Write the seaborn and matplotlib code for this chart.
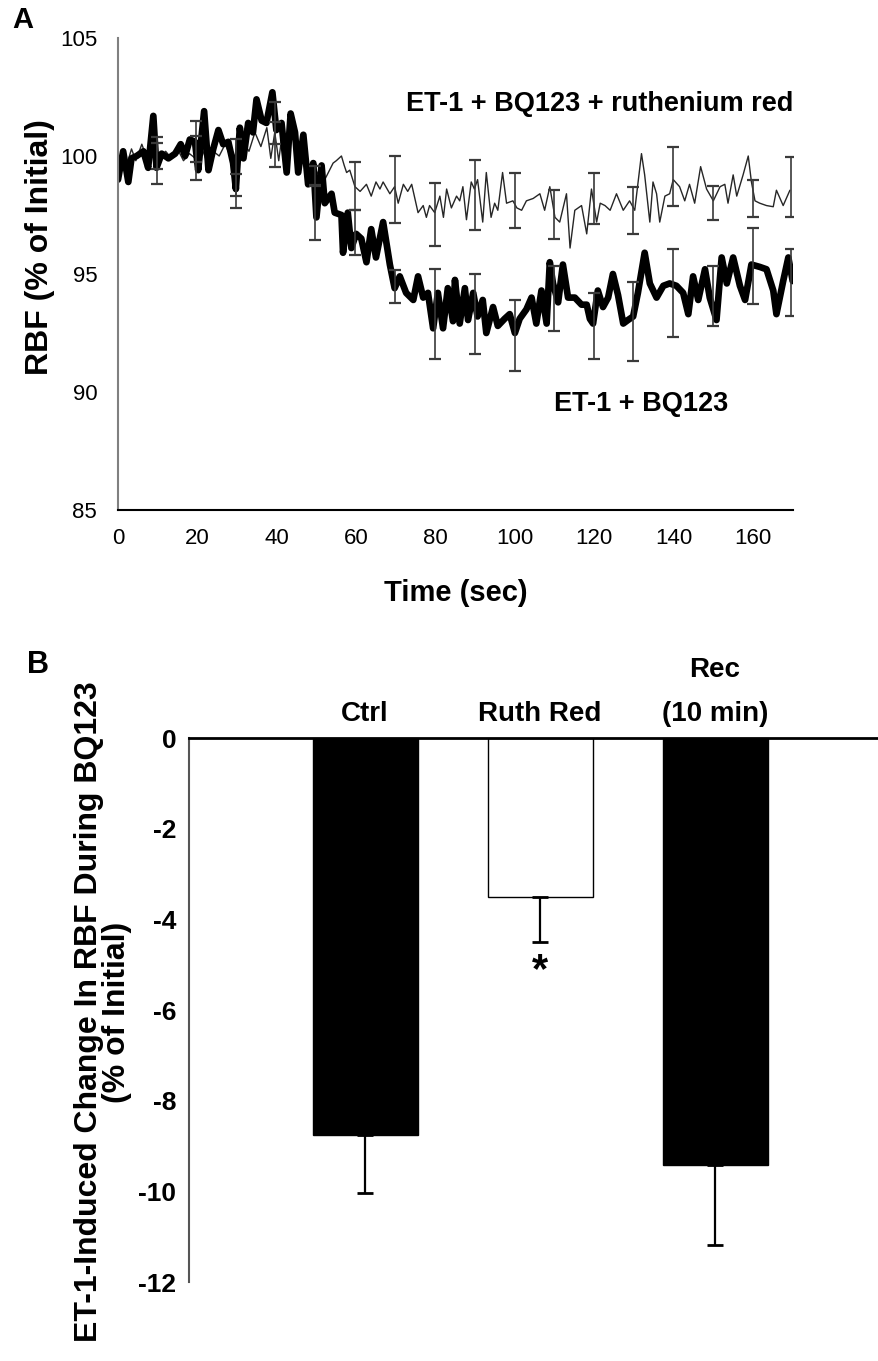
import numpy as np
import pandas as pd
import matplotlib
matplotlib.use("Agg")
import matplotlib.pyplot as plt
import seaborn as sns

# ---------------- Panel A data ----------------
bq_time = [0.0, 1.3, 2.6, 3.4, 4.7, 6.4, 7.6, 8.9, 9.7, 11.0, 12.7, 14.4, 15.8, 16.9, 18.1, 19.4,
           20.2, 21.7, 22.8, 24.0, 25.3, 26.5, 27.8, 29.0, 29.7, 30.7, 31.6, 32.8, 34.0, 34.9, 36.2,
           37.4, 38.9, 39.9, 41.2, 42.5, 43.5, 44.6, 45.4, 46.7, 47.9, 49.2, 50.0, 51.3, 52.1, 53.8,
           54.6, 56.3, 56.7, 57.9, 58.8, 60.0, 61.3, 62.6, 63.8, 65.0, 66.8, 68.5, 69.7, 71.0, 72.6,
           74.4, 75.6, 76.9, 78.1, 79.4, 80.6, 81.9, 83.1, 84.4, 84.9, 86.1, 87.4, 88.2, 89.5, 90.6,
           91.9, 92.8, 94.5, 95.7, 97.4, 98.7, 100.0, 101.2, 102.9, 104.2, 105.4, 106.7, 108.0, 108.8,
           109.6, 110.9, 112.1, 113.4, 115.1, 116.8, 118.1, 118.9, 119.7, 120.9, 122.2, 123.5, 124.7,
           126.0, 127.3, 128.5, 129.8, 131.0, 132.7, 134.0, 135.7, 137.4, 139.0, 140.7, 142.4, 143.7,
           144.9, 146.2, 147.9, 149.1, 150.8, 152.1, 153.4, 155.0, 156.7, 158.0, 159.6, 161.7, 163.4,
           165.1, 165.9, 167.6, 168.9, 170.0]
bq_rbf = [99.0, 100.2, 98.9, 99.9, 100.0, 100.2, 99.5, 101.7, 99.5, 100.1, 99.9, 100.1, 100.5, 100.0,
          100.7, 100.6, 99.4, 101.9, 99.4, 100.3, 101.1, 100.5, 100.6, 99.7, 98.6, 101.2, 99.9, 101.4,
          101.0, 102.4, 101.5, 101.4, 102.7, 101.1, 101.4, 99.3, 101.8, 101.0, 99.3, 100.9, 98.8, 99.7,
          97.4, 99.6, 98.0, 98.4, 97.6, 97.5, 95.9, 97.6, 96.1, 96.7, 96.5, 95.5, 96.9, 95.7, 97.2, 95.4,
          94.4, 94.9, 94.2, 93.9, 94.9, 94.0, 94.2, 92.7, 94.2, 92.7, 94.4, 93.0, 94.75, 92.9, 94.4,
          93.05, 94.2, 93.2, 93.9, 92.5, 93.6, 92.8, 93.1, 93.3, 92.5, 93.1, 93.5, 94.0, 92.9, 94.3,
          92.9, 95.5, 94.6, 93.8, 95.4, 94.0, 94.0, 93.7, 93.7, 93.1, 92.9, 94.3, 93.6, 94.0, 95.0,
          94.1, 92.9, 93.05, 93.2, 94.2, 95.9, 94.6, 94.0, 94.5, 94.6, 94.5, 94.2, 93.3, 94.9, 93.9,
          95.2, 94.0, 93.05, 95.7, 94.6, 95.7, 94.5, 93.9, 95.4, 95.3, 95.2, 94.3, 93.3, 94.7, 95.7, 94.7]

rr_time = [0.0, 1.0, 2.0, 3.4, 4.5, 6.0, 7.5, 9.0, 10.5, 12.0, 13.5, 15.0, 16.5, 18.0, 19.5, 21.0,
           22.5, 24.0, 25.5, 27.0, 28.5, 30.0, 31.5, 33.0, 34.5, 36.0, 37.5, 38.5, 39.5, 40.5, 41.5,
           42.5, 44.0, 45.5, 47.0, 48.5, 50.0, 51.0, 52.1, 53.0, 54.2, 55.0, 56.3, 57.0, 57.6, 58.4,
           59.7, 61.0, 62.6, 63.8, 65.0, 66.0, 66.8, 68.5, 69.7, 70.6, 71.9, 73.0, 74.0, 75.6, 76.9,
           77.7, 78.5, 79.8, 81.1, 82.0, 82.8, 84.0, 85.3, 86.1, 86.9, 87.8, 89.0, 89.8, 90.6, 91.9,
           92.8, 94.0, 94.9, 95.7, 96.9, 97.9, 99.5, 100.5, 101.7, 102.9, 104.6, 106.3, 107.5, 108.8,
           110.1, 111.3, 113.0, 113.9, 115.1, 116.8, 118.1, 119.3, 120.6, 121.5, 122.7, 124.0, 125.6,
           127.3, 128.9, 130.2, 131.9, 132.7, 134.0, 134.8, 135.7, 136.5, 137.8, 139.0, 139.9, 141.5,
           142.8, 144.0, 145.3, 146.8, 148.3, 150.0, 151.7, 152.9, 153.7, 155.0, 155.9, 157.5, 158.8,
           159.6, 160.5, 161.7, 163.4, 165.1, 165.9, 167.6, 169.3]
rr_rbf = [99.3, 100.0, 99.5, 100.3, 99.8, 100.5, 99.8, 100.4, 99.9, 100.2, 99.9, 100.3, 99.8, 100.1,
          99.9, 100.4, 99.7, 100.2, 100.0, 100.5, 99.9, 100.1, 100.6, 100.2, 101.0, 100.4, 101.2, 99.9,
          101.0, 99.8, 101.1, 100.5, 100.8, 100.2, 99.6, 99.4, 99.2, 99.5, 99.0, 99.3, 99.7, 99.8,
          100.0, 99.6, 99.3, 99.4, 98.7, 98.5, 98.8, 98.3, 98.9, 98.6, 98.9, 98.4, 98.7, 98.0, 98.8,
          98.5, 98.8, 97.6, 97.9, 97.4, 97.9, 97.6, 98.3, 97.4, 98.6, 97.8, 98.3, 98.1, 98.7, 97.3,
          98.9, 98.6, 99.0, 97.2, 99.3, 97.4, 98.0, 97.7, 99.3, 98.0, 98.1, 97.8, 97.7, 98.1, 98.2,
          98.4, 97.7, 98.7, 97.4, 97.2, 98.4, 96.1, 97.7, 97.9, 96.7, 98.6, 97.2, 98.0, 97.9, 97.7,
          98.4, 97.7, 98.1, 97.7, 100.1, 99.2, 97.2, 98.9, 98.4, 97.2, 98.3, 98.4, 99.0, 98.7, 98.1,
          98.8, 98.0, 99.55, 98.6, 98.1, 98.7, 98.8, 98.0, 99.2, 98.3, 99.2, 100.0, 98.9, 98.1, 98.0,
          97.9, 97.85, 98.55, 97.9, 98.55]

err_time = [9.8, 19.6, 29.7, 39.6, 49.7, 59.7, 69.8, 79.8, 89.9, 100.0, 109.9, 119.9, 129.8,
            139.8, 149.8, 160.0, 169.5]
bq_err_mean = [99.8, 100.25, 98.5, 101.4, 97.6, 96.75, 94.46, 93.3, 93.3, 92.4, 93.97, 92.8, 93.0,
               94.19, 94.07, 95.33, 94.65]
bq_err_sem = [1.0, 1.25, 0.72, 0.9, 1.16, 0.95, 0.7, 1.9, 1.7, 1.5, 1.39, 1.4, 1.67, 1.85, 1.27,
              1.6, 1.43]
rr_err_mean = [100.0, 100.3, 99.5, 100.5, 99.15, 98.73, 98.6, 97.52, 98.35, 98.1, 97.54, 98.2,
               97.7, 99.14, 98.0, 98.19, 98.67]
rr_err_sem = [0.55, 0.55, 1.2, 0.95, 0.42, 1.03, 1.42, 1.33, 1.48, 1.17, 1.04, 1.08, 1.0, 1.26,
              0.72, 0.79, 1.27]

# ---------------- Panel B data ----------------
groups = ["Ctrl", "Ruth Red", "Rec\n(10 min)"]
change = [-8.75, -3.5, -9.42]
change_sem = [1.29, 1.0, 1.76]
bar_colors = ["black", "white", "black"]

# ---------------- Style ----------------
sns.set_style("white")
plt.rcParams['font.family'] = ['Liberation Sans', 'DejaVu Sans']
plt.rcParams['axes.unicode_minus'] = False
plt.rcParams['text.color'] = 'black'
plt.rcParams['axes.labelcolor'] = 'black'
plt.rcParams['xtick.color'] = 'black'
plt.rcParams['ytick.color'] = 'black'

fig = plt.figure(figsize=(8.79, 13.61), dpi=100)

# ---------------- Panel A ----------------
axA = fig.add_axes([118/879, 1-510/1361, 674.7/879, 472/1361])
sns.lineplot(x=rr_time, y=rr_rbf, ax=axA, color='#262626', linewidth=1.0,
             estimator=None, sort=False)
sns.lineplot(x=bq_time, y=bq_rbf, ax=axA, color='black', linewidth=4.8,
             estimator=None, sort=False, solid_joinstyle='round', solid_capstyle='round')
axA.errorbar(err_time, rr_err_mean, yerr=rr_err_sem, fmt='none', ecolor='#3a3a3a',
             elinewidth=1.2, capsize=4.5, capthick=1.6)
axA.errorbar(err_time, bq_err_mean, yerr=bq_err_sem, fmt='none', ecolor='#3a3a3a',
             elinewidth=1.2, capsize=4.5, capthick=1.6)
axA.set_xlim(0, 170)
axA.set_ylim(85, 105)
axA.set_xticks(range(0, 161, 20))
axA.set_yticks(range(85, 106, 5))
for s in ['top', 'right']:
    axA.spines[s].set_visible(False)
axA.spines['left'].set_color('#808080')
axA.spines['left'].set_linewidth(1.5)
axA.spines['bottom'].set_color('black')
axA.spines['bottom'].set_linewidth(1.5)
axA.tick_params(axis='both', direction='out', length=6, width=1.2, color='#555555',
                labelsize=16, pad=7)
axA.tick_params(axis='y', pad=9)
axA.set_xlabel("Time (sec)", fontsize=21, fontweight='bold')
axA.xaxis.set_label_coords(0.5, -0.146)
axA.set_ylabel("RBF (% of Initial)", fontsize=23, fontweight='bold')
axA.yaxis.set_label_coords(-0.093, 0.557)
axA.text(121.4, 102.2, "ET-1 + BQ123 + ruthenium red", ha='center', va='center',
         fontsize=19.5, fontweight='bold')
axA.text(131.7, 89.5, "ET-1 + BQ123", ha='center', va='center',
         fontsize=19.5, fontweight='bold')

# ---------------- Panel B ----------------
axB = fig.add_axes([189/879, 1-1282/1361, 701/879, 544/1361])
sns.barplot(x=groups, y=change, hue=groups, palette=bar_colors, legend=False,
            width=0.6, edgecolor='black', linewidth=1.0, ax=axB)
axB.errorbar([0, 1, 2], change, yerr=[change_sem, [0, 0, 0]], fmt='none',
             ecolor='black', elinewidth=1.6, capsize=6, capthick=2)
axB.set_xlim(-1.006, 3.0)
axB.set_ylim(-12, 0)
axB.set_yticks(range(-12, 1, 2))
axB.xaxis.tick_top()
axB.tick_params(axis='x', length=0, pad=8, labelsize=20)
for lab in axB.get_xticklabels():
    lab.set_fontweight('bold')
    lab.set_linespacing(1.9)
axB.tick_params(axis='y', direction='out', length=5, width=1.2, color='#555555',
                labelsize=19, pad=4)
for lab in axB.get_yticklabels():
    lab.set_fontweight('bold')
axB.set_xlabel("")
axB.set_ylabel("")
for s in ['bottom', 'right']:
    axB.spines[s].set_visible(False)
axB.spines['top'].set_color('black')
axB.spines['top'].set_linewidth(2)
axB.spines['left'].set_color('#555555')
axB.spines['left'].set_linewidth(1.5)
axB.text(1, -4.7, "*", ha='center', va='top', fontsize=30, fontweight='bold')

fig.text(103/879, 1-1012/1361, "ET-1-Induced Change In RBF During BQ123\n(% of Initial)",
         rotation=90, ha='center', va='center', multialignment='center',
         fontsize=23, fontweight='bold', linespacing=0.95)

fig.text(12/879, 1-20/1361, "A", fontsize=21, fontweight='bold', va='center', ha='left')
fig.text(27/879, 1-665/1361, "B", fontsize=22, fontweight='bold', va='center', ha='left')

fig.savefig("out.png", dpi=100)
